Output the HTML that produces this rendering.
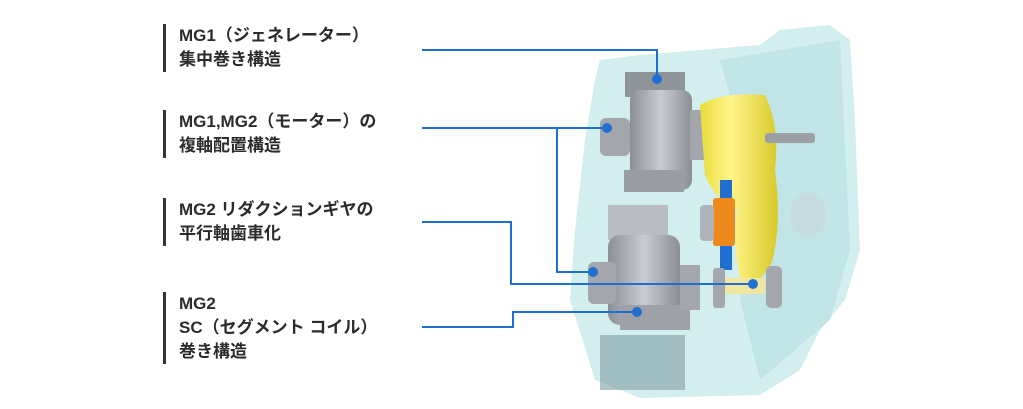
<!DOCTYPE html>
<html><head><meta charset="utf-8"><style>
html,body{margin:0;padding:0;background:#fff;}
body{width:1023px;height:409px;position:relative;overflow:hidden;font-family:"Liberation Sans","Noto Sans CJK JP",sans-serif;}
.blk{position:absolute;left:163px;border-left:3px solid #333;padding-left:13px;font-weight:bold;font-size:17px;line-height:24px;color:#2b2b2b;}
svg{position:absolute;left:0;top:0;}
</style></head><body>
<svg width="1023" height="409">
<defs>
<linearGradient id="g" x1="0" x2="1"><stop offset="0" stop-color="#8c9096"/><stop offset="0.5" stop-color="#c9ccd1"/><stop offset="1" stop-color="#8a8e94"/></linearGradient>
<linearGradient id="y" x1="0" x2="1"><stop offset="0" stop-color="#e8dc3a"/><stop offset="0.4" stop-color="#fff58a"/><stop offset="1" stop-color="#d8c92a"/></linearGradient>
</defs>
<path d="M600 60 L640 55 L700 50 L760 45 L780 30 L830 25 L850 40 L855 120 L860 250 L845 300 L820 330 L800 370 L760 395 L640 398 L595 380 L570 300 L575 230 L585 140 L595 80 Z" fill="#cdeced" opacity="0.9"/>
<path d="M720 60 L840 40 L850 250 L830 320 L760 380 L740 300 L760 200 Z" fill="#b6dfe1" opacity="0.6"/>
<rect x="600" y="335" width="85" height="55" fill="#7f9ea1" opacity="0.6"/>
<rect x="625" y="72" width="60" height="25" fill="#8f949a"/>
<rect x="630" y="90" width="62" height="100" rx="10" fill="url(#g)"/>
<rect x="624" y="170" width="60" height="22" fill="#9a9ea4"/>
<rect x="600" y="118" width="30" height="38" rx="6" fill="#a3a7ad"/>
<rect x="690" y="110" width="20" height="50" fill="#a3a7ad"/>
<path d="M700 105 Q720 92 765 95 Q780 125 775 170 Q782 225 772 262 Q760 285 742 285 Q732 250 737 210 Q715 200 705 175 Z" fill="url(#y)"/>
<rect x="765" y="133" width="50" height="10" rx="3" fill="#9ca0a6"/>
<rect x="720" y="180" width="12" height="90" fill="#1e6fd0"/>
<rect x="713" y="198" width="22" height="48" rx="3" fill="#ee8a1c"/>
<rect x="700" y="205" width="14" height="36" rx="4" fill="#b0b4ba"/>
<ellipse cx="808" cy="215" rx="18" ry="22" fill="#c7dcdf"/>
<rect x="608" y="205" width="60" height="35" fill="#b9bdc3"/>
<rect x="608" y="235" width="72" height="90" rx="12" fill="url(#g)"/>
<rect x="620" y="305" width="70" height="25" fill="#9ea2a8"/>
<rect x="588" y="262" width="28" height="42" rx="6" fill="#a3a7ad"/>
<rect x="680" y="265" width="20" height="45" fill="#a3a7ad"/>
<rect x="713" y="268" width="12" height="40" rx="3" fill="#a3a7ad"/>
<rect x="725" y="278" width="40" height="16" fill="#f0e6a0"/>
<rect x="766" y="266" width="16" height="42" rx="5" fill="#a3a7ad"/>
<g stroke="#1f6fd1" stroke-width="2" fill="none">
<polyline points="422,50 657,50 657,78"/>
<polyline points="422,128 607,128"/>
<polyline points="557,128 557,272 593,272"/>
<polyline points="422,222 511,222 511,284 753,284"/>
<polyline points="422,327 513,327 513,312 637,312"/>
</g>
<g fill="#1f6fd1">
<circle cx="657" cy="79" r="5"/><circle cx="607" cy="128" r="5"/><circle cx="593" cy="272" r="5"/><circle cx="753" cy="284" r="5"/><circle cx="637" cy="312" r="5"/>
</g>
</svg>
<div class="blk" style="top:24px;">MG1（ジェネレーター）<br>集中巻き構造</div>
<div class="blk" style="top:110px;">MG1,MG2（モーター）の<br>複軸配置構造</div>
<div class="blk" style="top:198px;">MG2 リダクションギヤの<br>平行軸歯車化</div>
<div class="blk" style="top:292px;">MG2<br>SC（セグメント コイル）<br>巻き構造</div>
</body></html>
